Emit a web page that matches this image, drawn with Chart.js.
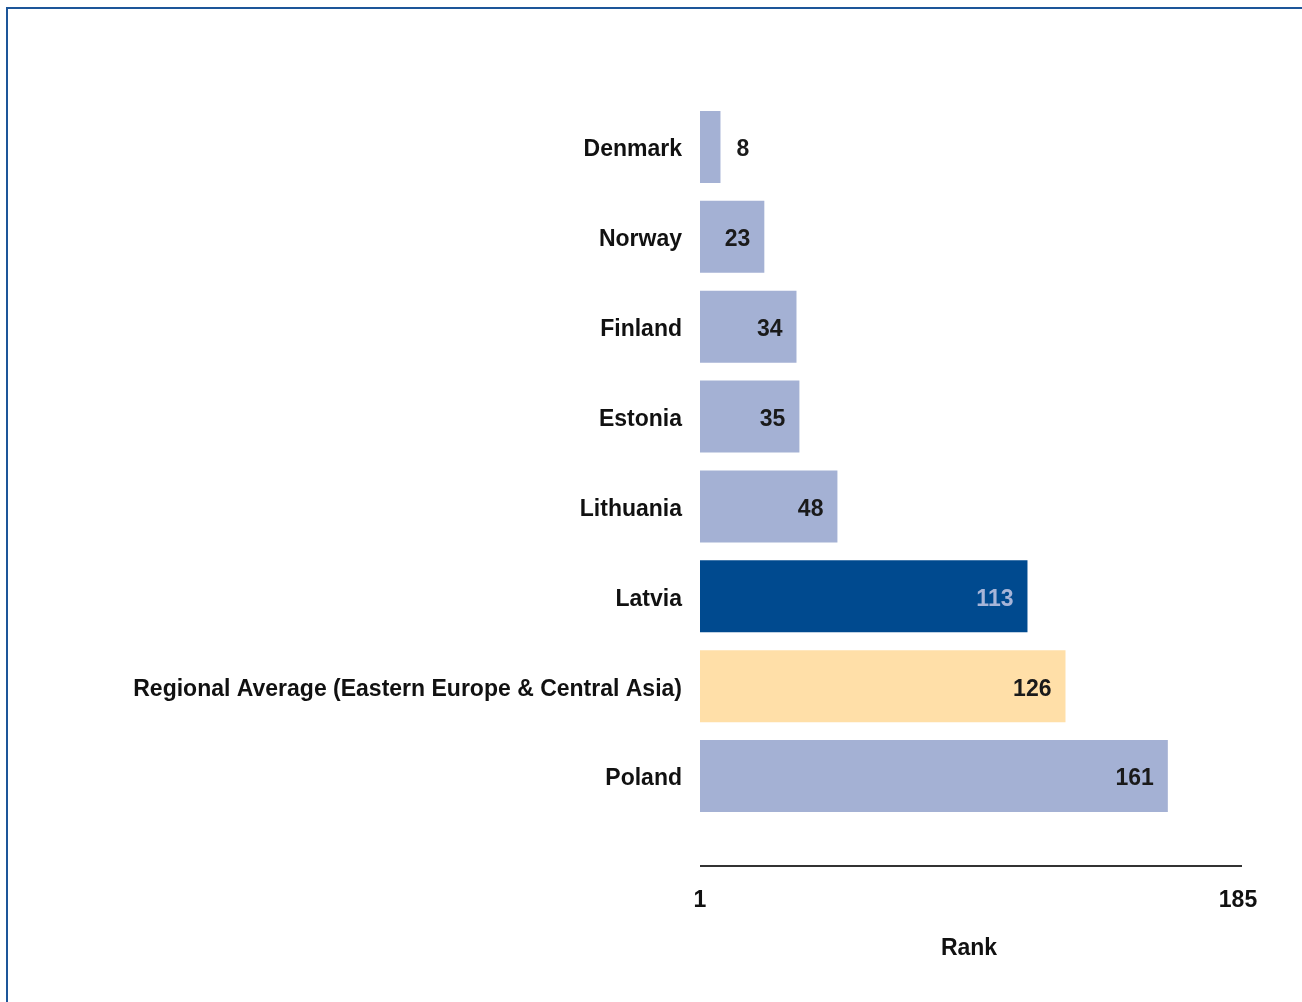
<!DOCTYPE html>
<html>
<head>
<meta charset="utf-8">
<script src="https://cdn.jsdelivr.net/npm/chart.js@4/dist/chart.umd.min.js"></script>
<style>
  html, body { margin: 0; padding: 0; background: #fff; }
  #wrap { position: absolute; left: 0; top: 0; width: 1302px; height: 1002px; }
  #frame { position: absolute; left: 6px; top: 7px; right: 0; bottom: 0;
           border-left: 2px solid #1d5699; border-top: 2px solid #1d5699; }
</style>
</head>
<body>
<div id="wrap">
  <div id="frame"></div>
  <canvas id="rank-chart" width="1302" height="1002"></canvas>
</div>
<script>
const countries = ['Denmark', 'Norway', 'Finland', 'Estonia', 'Lithuania', 'Latvia',
    'Regional Average (Eastern Europe & Central Asia)', 'Poland'];
const ranks = [8, 23, 34, 35, 48, 113, 126, 161];
const barColors = ['#a4b1d4', '#a4b1d4', '#a4b1d4', '#a4b1d4', '#a4b1d4', '#004a8f', '#ffdfa8', '#a4b1d4'];
const labelColors = ['#1a1a1a', '#1a1a1a', '#1a1a1a', '#1a1a1a', '#1a1a1a', '#a7b5d8', '#1a1a1a', '#1a1a1a'];
const rankTicks = [1, 185];

const fontFamily = '"Liberation Sans", Arial, sans-serif';

// value labels on the bars, outside when the bar is too short
const valueLabels = {
    id: 'valueLabels',
    afterDatasetsDraw(chart) {
        const ctx = chart.ctx;
        const meta = chart.getDatasetMeta(0);
        ctx.save();
        ctx.font = 'bold 23px ' + fontFamily;
        ctx.textBaseline = 'middle';
        meta.data.forEach((bar, i) => {
            const text = String(ranks[i]);
            ctx.fillStyle = labelColors[i];
            if (bar.x - bar.base < 40) {
                ctx.textAlign = 'left';
                ctx.fillText(text, bar.x + 16, bar.y + 3);
            } else {
                ctx.textAlign = 'right';
                ctx.fillText(text, bar.x - 14, bar.y + 3);
            }
        });
        ctx.restore();
    }
};

// axis line sits a little below the last bar
const rankAxisLine = {
    id: 'rankAxisLine',
    afterDraw(chart) {
        const ctx = chart.ctx;
        const x = chart.scales.x;
        const y = chart.chartArea.bottom + 45;
        ctx.save();
        ctx.strokeStyle = '#333';
        ctx.lineWidth = 2;
        ctx.beginPath();
        ctx.moveTo(x.left, y);
        ctx.lineTo(x.right + 4, y);
        ctx.stroke();
        ctx.restore();
    }
};

new Chart(document.getElementById('rank-chart').getContext('2d'), {
    type: 'bar',
    data: {
        labels: countries,
        datasets: [{
            data: ranks.map(r => [1, r]),
            backgroundColor: barColors,
            borderWidth: 0,
            categoryPercentage: 1,
            barPercentage: 0.8
        }]
    },
    options: {
        indexAxis: 'y',
        responsive: false,
        animation: false,
        layout: { padding: { left: 0, right: 0, top: 102, bottom: 40 } },
        plugins: {
            legend: { display: false },
            tooltip: { enabled: false }
        },
        scales: {
            x: {
                min: 1,
                max: 185,
                grid: { display: false, drawTicks: false },
                border: { display: false },
                afterBuildTicks(scale) {
                    scale.ticks = rankTicks.map(v => ({ value: v }));
                },
                afterFit(scale) {
                    scale.height = 141;
                    scale.paddingLeft = 0;
                    scale.paddingRight = 64;
                },
                ticks: {
                    padding: 66,
                    maxRotation: 0,
                    color: '#111',
                    font: { family: fontFamily, size: 23, weight: 'bold' }
                },
                title: {
                    display: true,
                    text: 'Rank',
                    color: '#111',
                    padding: { top: 24, bottom: 0 },
                    font: { family: fontFamily, size: 23, weight: 'bold' }
                }
            },
            y: {
                grid: { display: false, drawTicks: false },
                border: { display: false },
                afterFit(scale) { scale.width = 700; },
                ticks: {
                    padding: 18,
                    labelOffset: 3,
                    color: '#111',
                    font: { family: fontFamily, size: 23, weight: 'bold' }
                }
            }
        }
    },
    plugins: [valueLabels, rankAxisLine]
});
</script>
</body>
</html>
